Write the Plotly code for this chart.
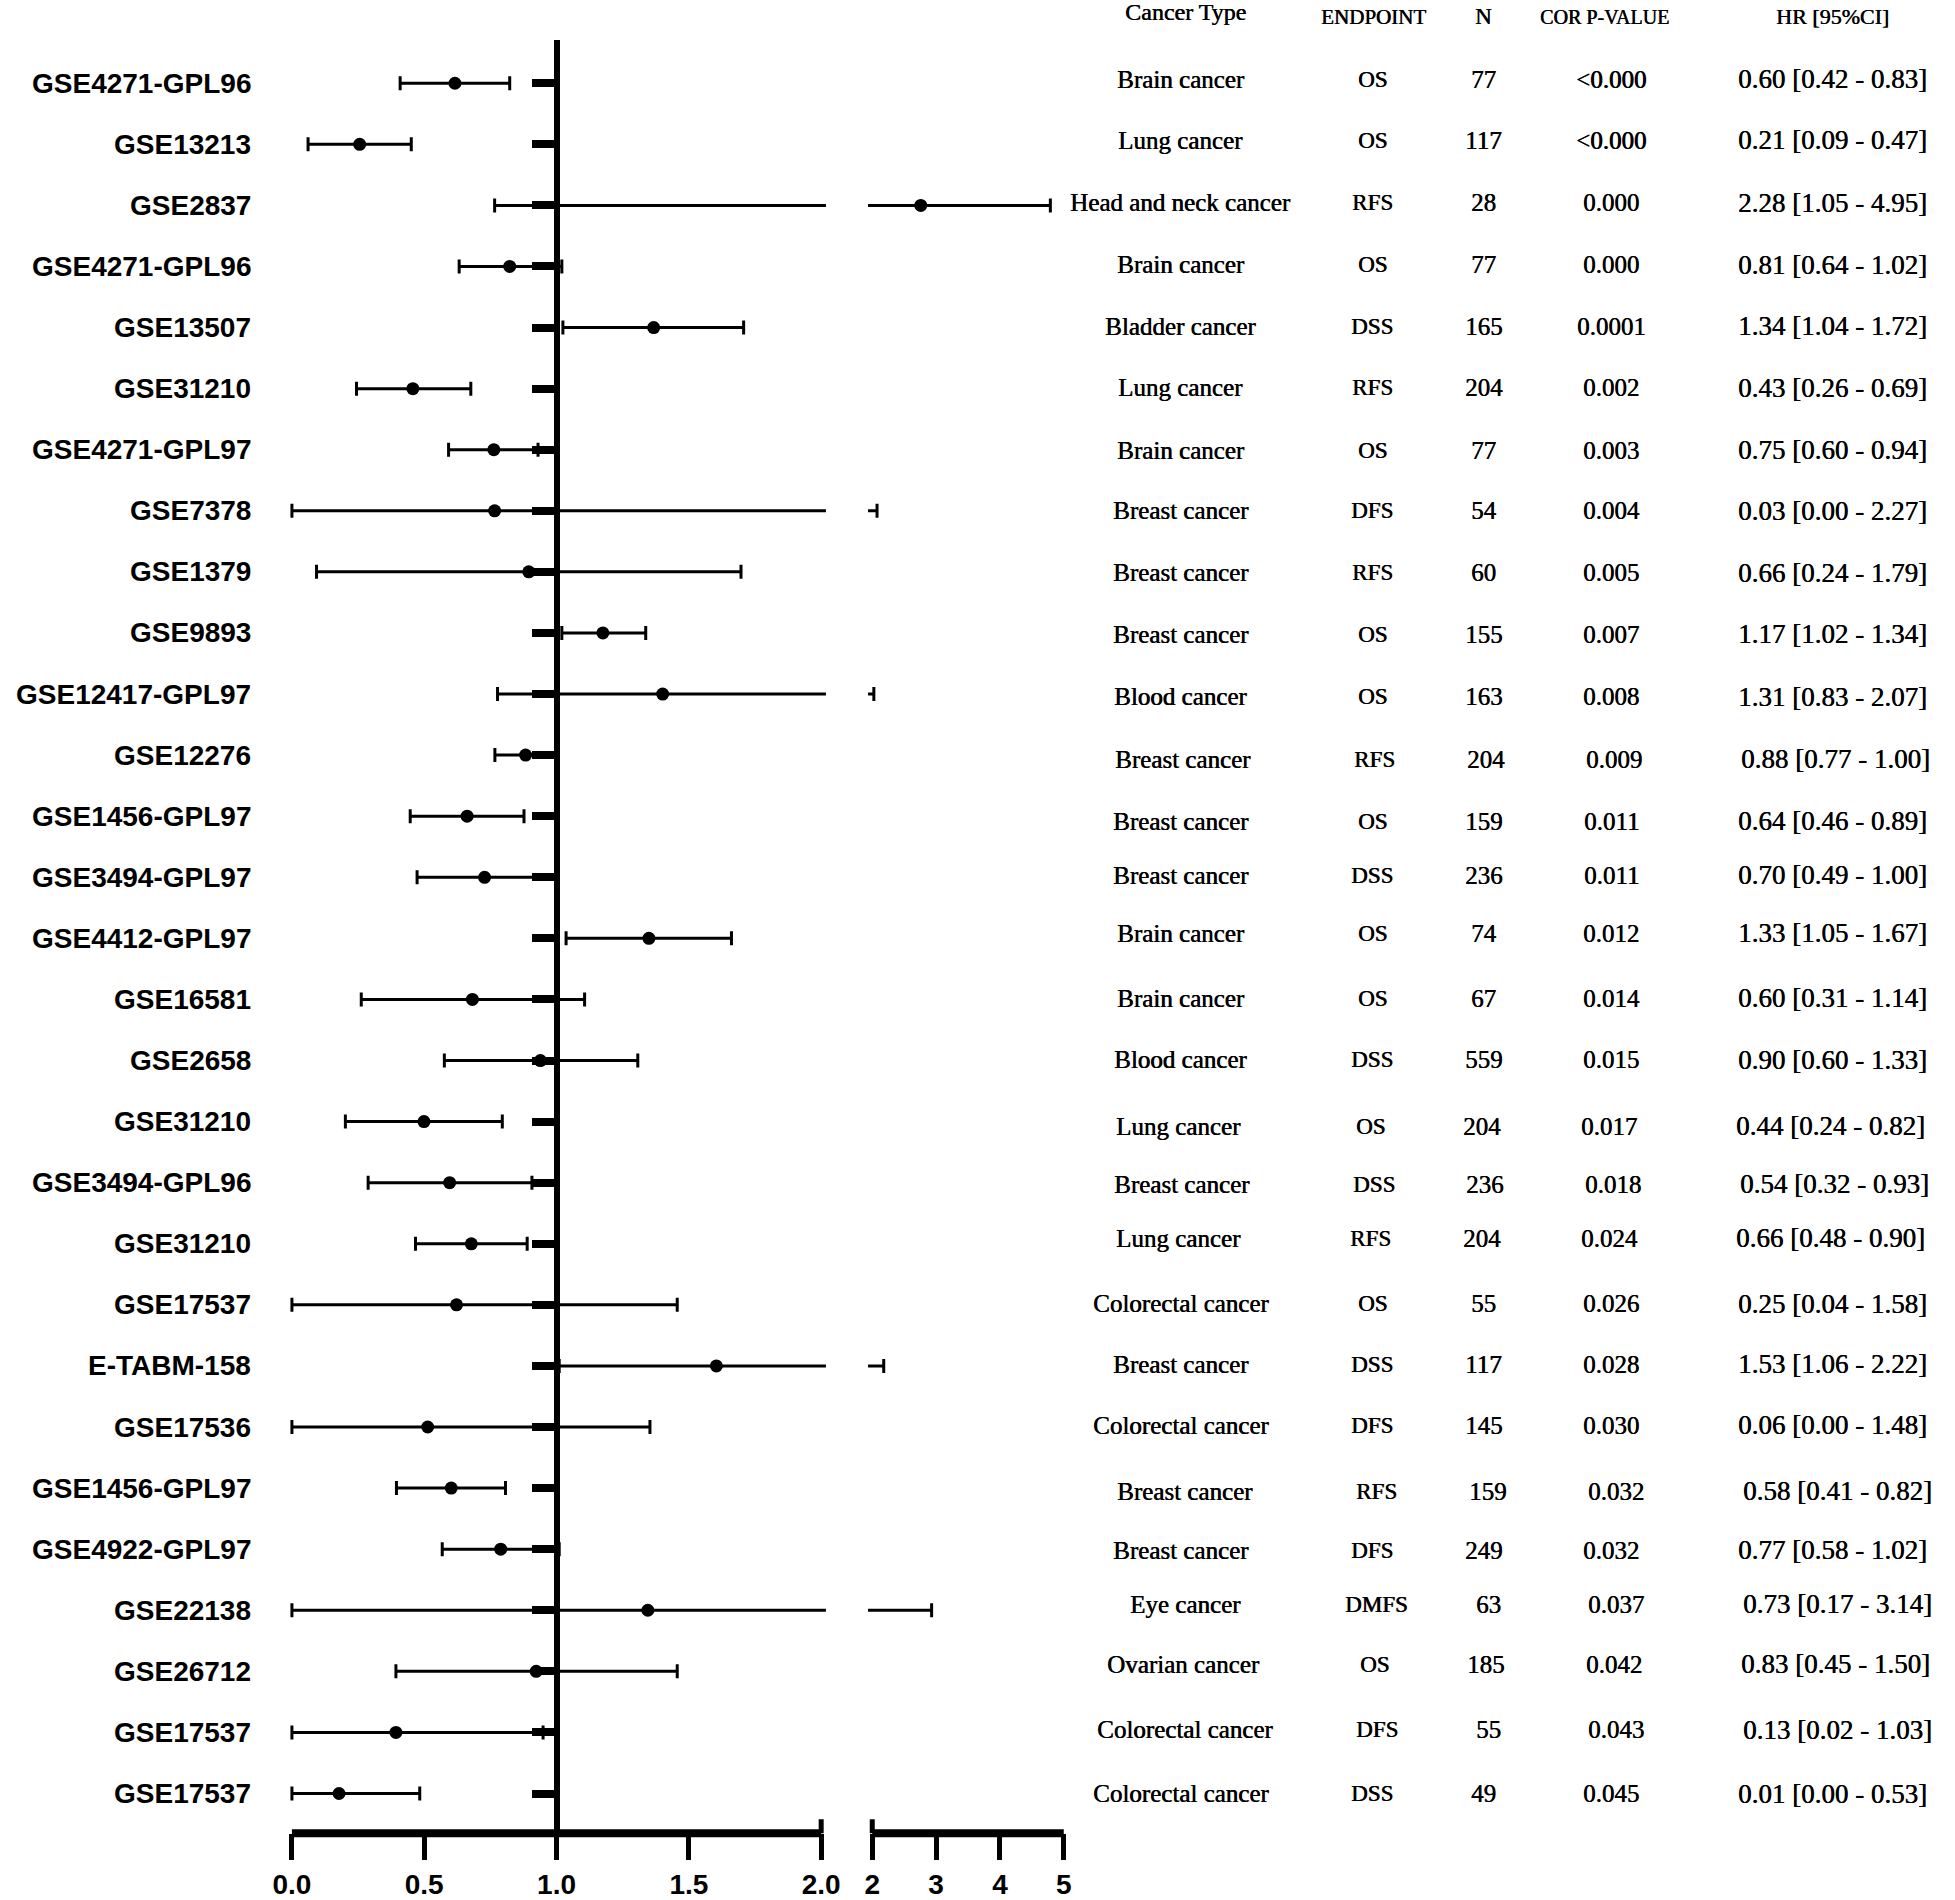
import plotly.graph_objects as go

# ---------------- data ----------------
datasets = ["GSE4271-GPL96", "GSE13213", "GSE2837", "GSE4271-GPL96", "GSE13507",
            "GSE31210", "GSE4271-GPL97", "GSE7378", "GSE1379", "GSE9893",
            "GSE12417-GPL97", "GSE12276", "GSE1456-GPL97", "GSE3494-GPL97",
            "GSE4412-GPL97", "GSE16581", "GSE2658", "GSE31210", "GSE3494-GPL96",
            "GSE31210", "GSE17537", "E-TABM-158", "GSE17536", "GSE1456-GPL97",
            "GSE4922-GPL97", "GSE22138", "GSE26712", "GSE17537", "GSE17537"]

# plotted hazard ratios and CI bounds
hr_point = [0.616, 0.256, 2.76, 0.823, 1.367, 0.457, 0.763, 0.766, 0.895, 1.175,
            1.401, 0.883, 0.662, 0.728, 1.349, 0.682, 0.939, 0.499, 0.596, 0.678,
            0.622, 1.604, 0.513, 0.602, 0.789, 1.345, 0.923, 0.393, 0.178]
ci_low = [0.409, 0.061, 0.766, 0.632, 1.024, 0.244, 0.592, 0.0, 0.093, 1.02,
          0.777, 0.767, 0.447, 0.473, 1.036, 0.262, 0.576, 0.202, 0.288, 0.467,
          0.0, 1.01, 0.0, 0.395, 0.568, 0.0, 0.393, 0.0, 0.0]
ci_high = [0.823, 0.451, 4.79, 1.02, 1.707, 0.676, 0.93, 2.075, 1.697, 1.337,
           2.025, 1.0, 0.877, 1.0, 1.661, 1.106, 1.307, 0.795, 0.907, 0.889,
           1.456, 2.18, 1.353, 0.807, 1.01, 2.93, 1.456, 0.949, 0.483]

cancer_types = ["Brain cancer", "Lung cancer", "Head and neck cancer", "Brain cancer",
                "Bladder cancer", "Lung cancer", "Brain cancer", "Breast cancer",
                "Breast cancer", "Breast cancer", "Blood cancer", "Breast cancer",
                "Breast cancer", "Breast cancer", "Brain cancer", "Brain cancer",
                "Blood cancer", "Lung cancer", "Breast cancer", "Lung cancer",
                "Colorectal cancer", "Breast cancer", "Colorectal cancer", "Breast cancer",
                "Breast cancer", "Eye cancer", "Ovarian cancer", "Colorectal cancer",
                "Colorectal cancer"]
endpoints = ["OS", "OS", "RFS", "OS", "DSS", "RFS", "OS", "DFS", "RFS", "OS", "OS",
             "RFS", "OS", "DSS", "OS", "OS", "DSS", "OS", "DSS", "RFS", "OS", "DSS",
             "DFS", "RFS", "DFS", "DMFS", "OS", "DFS", "DSS"]
n_samples = [77, 117, 28, 77, 165, 204, 77, 54, 60, 155, 163, 204, 159, 236, 74, 67,
             559, 204, 236, 204, 55, 117, 145, 159, 249, 63, 185, 55, 49]
p_values = ["<0.000", "<0.000", "0.000", "0.000", "0.0001", "0.002", "0.003", "0.004",
            "0.005", "0.007", "0.008", "0.009", "0.011", "0.011", "0.012", "0.014",
            "0.015", "0.017", "0.018", "0.024", "0.026", "0.028", "0.030", "0.032",
            "0.032", "0.037", "0.042", "0.043", "0.045"]
hr_text = ["0.60 [0.42 - 0.83]", "0.21 [0.09 - 0.47]", "2.28 [1.05 - 4.95]",
           "0.81 [0.64 - 1.02]", "1.34 [1.04 - 1.72]", "0.43 [0.26 - 0.69]",
           "0.75 [0.60 - 0.94]", "0.03 [0.00 - 2.27]", "0.66 [0.24 - 1.79]",
           "1.17 [1.02 - 1.34]", "1.31 [0.83 - 2.07]", "0.88 [0.77 - 1.00]",
           "0.64 [0.46 - 0.89]", "0.70 [0.49 - 1.00]", "1.33 [1.05 - 1.67]",
           "0.60 [0.31 - 1.14]", "0.90 [0.60 - 1.33]", "0.44 [0.24 - 0.82]",
           "0.54 [0.32 - 0.93]", "0.66 [0.48 - 0.90]", "0.25 [0.04 - 1.58]",
           "1.53 [1.06 - 2.22]", "0.06 [0.00 - 1.48]", "0.58 [0.41 - 0.82]",
           "0.77 [0.58 - 1.02]", "0.73 [0.17 - 3.14]", "0.83 [0.45 - 1.50]",
           "0.13 [0.02 - 1.03]", "0.01 [0.00 - 0.53]"]
headers = ["Cancer Type", "ENDPOINT", "N", "COR P-VALUE", "HR [95%CI]"]

ticks_low = [0, 0.5, 1.0, 1.5, 2.0]
ticks_low_text = ["0.0", "0.5", "1.0", "1.5", "2.0"]
ticks_high = [2, 3, 4, 5]
ticks_high_text = ["2", "3", "4", "5"]

# ---------------- layout geometry (reference pixels) ----------------
W, H = 1955, 1900
def px(x):
    return x / W
def py(y):
    return 1 - y / H

# the table in the reference is slightly misaligned row by row (pixels, + = down / right)
table_dy = [-4.2, -4.1, -2.8, -1.7, -1.4, -0.7, 0.4, 0, 1, 1.5, 2.8, 3.9, 5, -2, -5,
            -1.3, -1, 4.4, 1.4, -5.5, -1.2, -1.5, -2, 3.3, 1.3, -6, -7.3, -2.6, 0]
table_dx = [0, 0, 0, 0, 0, 0, 0, 0, 0, 0, 0, 2.5, 0, 0, 0, 0, 0, -2, 1.5, -2, 0, 0, 0,
            4.3, 0, 4.5, 2.5, 4.5, 0]

nrow = len(datasets)
rows = list(range(nrow))
err_plus = [h - v for h, v in zip(ci_high, hr_point)]
err_minus = [v - l for v, l in zip(hr_point, ci_low)]

y_bottom = py(1840)
y_top = py(40)

fig = go.Figure()
for ax in ["x", "x2"]:
    fig.add_trace(go.Scatter(
        x=hr_point, y=rows, xaxis=ax, yaxis="y", mode="markers",
        marker=dict(color="black", size=13, symbol="circle"),
        error_x=dict(type="data", symmetric=False, array=err_plus, arrayminus=err_minus,
                     color="black", thickness=3, width=7),
        hoverinfo="skip", showlegend=False, cliponaxis=True))

LABEL_FONT = "Liberation Sans, Arial, sans-serif"
TABLE_FONT = "Liberation Serif, Times New Roman, serif"
HEAVY = "0.6px 0px 0px #000"

annotations = []
for i, name in enumerate(datasets):
    annotations.append(dict(text=name, x=px(240), xref="paper", y=i, yref="y",
                            xanchor="right", yanchor="middle", showarrow=False,
                            font=dict(family=LABEL_FONT, size=28, color="black", weight="bold")))

col_x = [1183, 1378, 1491, 1621, 1846]
col_sizes = [25, 23, 25, 25, 27]
for i in rows:
    vals = [cancer_types[i], endpoints[i], str(n_samples[i]),
            p_values[i].replace("<", "&lt;"), hr_text[i]]
    for c, v in enumerate(vals):
        annotations.append(dict(text=v, x=px(col_x[c] + table_dx[i]), xref="paper", y=i, yref="y",
                                xanchor="center", yanchor="middle", yshift=-table_dy[i],
                                showarrow=False,
                                font=dict(family=TABLE_FONT, size=col_sizes[c], color="black",
                                          shadow=HEAVY)))

head_x = [1188, 1379, 1491, 1614, 1846]
head_y = [12, 17, 17, 17, 17]
head_sizes = [24, 21, 23, 20, 22]
for c, h in enumerate(headers):
    annotations.append(dict(text=h, x=px(head_x[c]), xref="paper", y=py(head_y[c]), yref="paper",
                            xanchor="center", yanchor="middle", showarrow=False,
                            font=dict(family=TABLE_FONT, size=head_sizes[c], color="black",
                                      shadow=HEAVY)))

shapes = [
    dict(type="line", xref="x", yref="paper", x0=0, x1=2, y0=y_bottom, y1=y_bottom,
         line=dict(color="black", width=8)),
    dict(type="line", xref="x2", yref="paper", x0=2, x1=5, y0=y_bottom, y1=y_bottom,
         line=dict(color="black", width=8)),
    dict(type="line", xref="x", yref="paper", x0=2, x1=2, y0=y_bottom, y1=py(1826),
         line=dict(color="black", width=5)),
    dict(type="line", xref="x2", yref="paper", x0=2, x1=2, y0=y_bottom, y1=py(1826),
         line=dict(color="black", width=5)),
]

tick_font = dict(family=LABEL_FONT, size=28, color="black", weight="bold")
fig.update_layout(
    width=W, height=H, margin=dict(l=0, r=0, t=0, b=0),
    paper_bgcolor="white", plot_bgcolor="white", showlegend=False,
    xaxis=dict(domain=[px(279.5 - 2.69), px(822.4)], range=[-0.01, 2.018], anchor="y",
               showline=False, showgrid=False, zeroline=False,
               tickmode="array", tickvals=ticks_low, ticktext=ticks_low_text,
               ticks="outside", ticklen=26, tickwidth=5, tickcolor="black",
               tickfont=tick_font),
    xaxis2=dict(domain=[px(865.2), px(1064.5)], range=[1.934, 5.005], anchor="y",
                showline=False, showgrid=False, zeroline=False,
                tickmode="array", tickvals=ticks_high, ticktext=ticks_high_text,
                ticks="outside", ticklen=26, tickwidth=5, tickcolor="black",
                tickfont=tick_font),
    yaxis=dict(domain=[y_bottom, y_top], range=[nrow - 1 + 0.65, -0.71],
               anchor="free", position=px(549), side="left",
               showline=True, linewidth=6, linecolor="black",
               showgrid=False, zeroline=False,
               tickmode="array", tickvals=rows, showticklabels=False,
               ticks="outside", ticklen=22, tickwidth=8, tickcolor="black"),
    annotations=annotations, shapes=shapes,
)

fig.write_html("out.html", config={"displayModeBar": False},
               post_script="document.body.style.margin='0px';")
